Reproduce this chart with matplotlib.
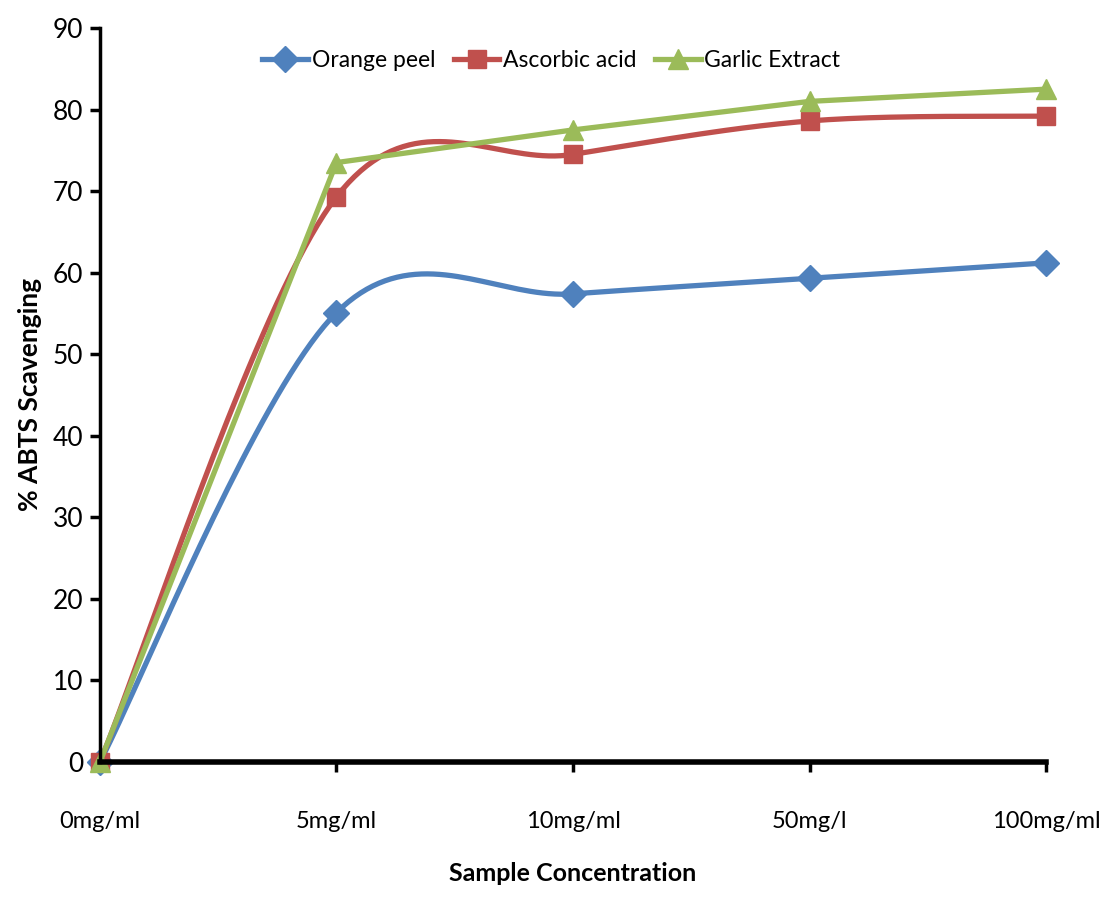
import numpy as np
import matplotlib
matplotlib.use("Agg")
import matplotlib.pyplot as plt

# Concentrations testées et % de piégeage ABTS
concentrations = ["0mg/ml", "5mg/ml", "10mg/ml", "50mg/l", "100mg/ml"]
orange_peel = [0, 55.1, 57.4, 59.3, 61.2]
ascorbic_acid = [0, 69.3, 74.5, 78.6, 79.2]
garlic_extract = [0, 73.5, 77.5, 81.0, 82.5]

plt.rcParams["font.family"] = ["Lato", "DejaVu Sans"]


def lissage(xs, ys, n=40):
    # courbe lissée type Catmull-Rom (comme le lissage d'Excel)
    pts = np.column_stack([xs, ys]).astype(float)
    last = len(pts) - 1
    out = [pts[0]]
    t = np.linspace(0, 1, n)[1:, None]
    for i in range(last):
        p0 = pts[max(i - 1, 0)]
        p1 = pts[i]
        p2 = pts[i + 1]
        p3 = pts[min(i + 2, last)]
        c1 = p1 + (p2 - p0) / 6
        c2 = p2 - (p3 - p1) / 6
        seg = ((1 - t) ** 3) * p1 + 3 * ((1 - t) ** 2) * t * c1 \
            + 3 * (1 - t) * t ** 2 * c2 + t ** 3 * p2
        out.extend(seg)
    out = np.array(out)
    return out[:, 0], out[:, 1]


x = np.arange(len(concentrations))

fig = plt.figure(figsize=(11.02, 8.97), dpi=100)
ax = fig.add_axes([0.0907, 0.1505, 0.8585, 0.8183])

series = [
    ("Orange peel", orange_peel, "#4F81BD", "D", 13, True),
    ("Ascorbic acid", ascorbic_acid, "#C0504D", "s", 13, True),
    ("Garlic Extract", garlic_extract, "#9BBB59", "^", 14, False),
]

handles = []
for nom, valeurs, couleur, marqueur, taille, lisse in series:
    if lisse:
        xs, ys = lissage(x, valeurs)
    else:
        xs, ys = x, valeurs
    ax.plot(xs, ys, color=couleur, lw=3.8, clip_on=False, solid_capstyle="round")
    ax.plot(x, valeurs, ls="none", marker=marqueur, ms=taille, color=couleur,
            mec=couleur, clip_on=False)
    h, = ax.plot([], [], color=couleur, lw=3.8, marker=marqueur, ms=taille,
                 mec=couleur, label=nom)
    handles.append(h)

ax.set_xlim(0, 4)
ax.set_ylim(0, 90)
ax.set_yticks(range(0, 91, 10))
ax.set_xticks(x)
ax.set_xticklabels(concentrations)

for s in ["top", "right"]:
    ax.spines[s].set_visible(False)
ax.spines["left"].set_linewidth(2.5)
ax.spines["bottom"].set_linewidth(4)
ax.tick_params(axis="both", direction="out", length=7, width=2.5,
               colors="black")
ax.tick_params(axis="x", pad=28, labelsize=17)
ax.tick_params(axis="y", pad=5, labelsize=19)

ax.set_ylabel("% ABTS Scavenging", fontsize=19, fontweight="bold", labelpad=8)
ax.set_xlabel("Sample Concentration", fontsize=18, fontweight="bold", labelpad=22)

ax.legend(handles=handles, loc="upper center", bbox_to_anchor=(0.477, 0.998),
          ncol=3, frameon=False, fontsize=16.5, handlelength=2.0,
          handletextpad=0.15, columnspacing=0.8)

fig.savefig("out.png", dpi=100)
